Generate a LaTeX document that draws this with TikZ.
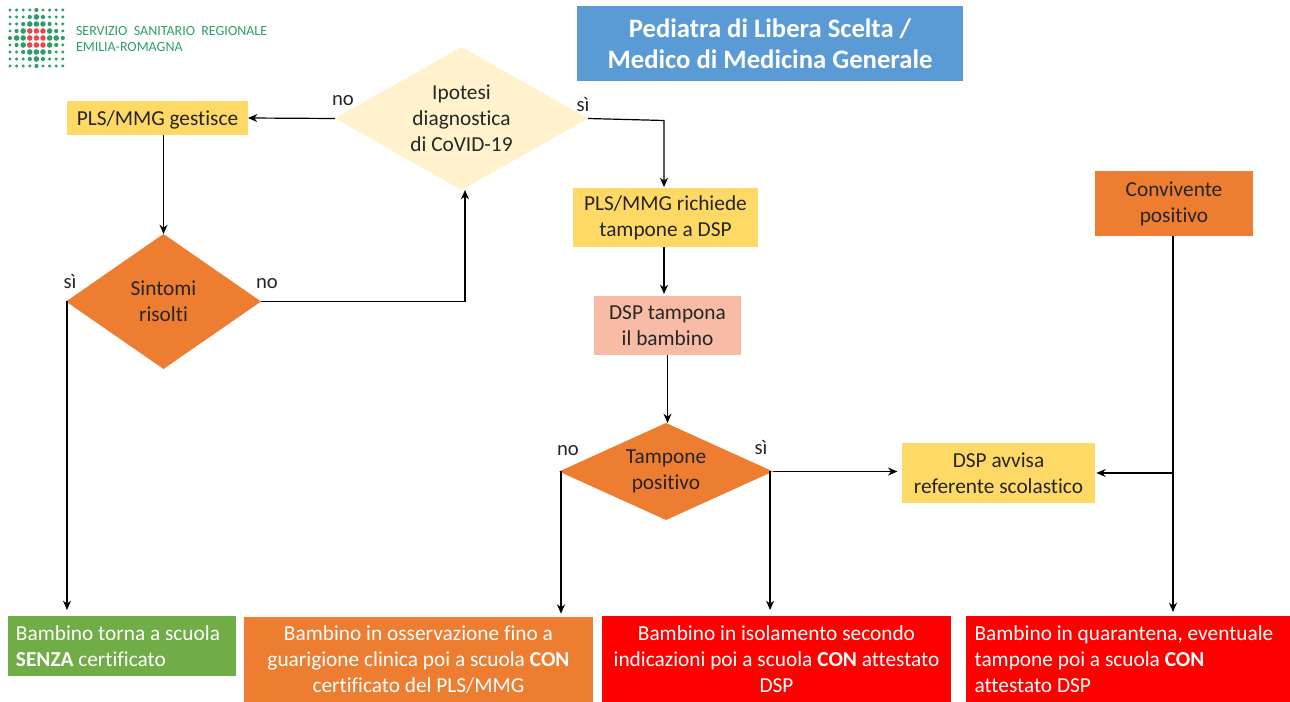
\documentclass[tikz,border=0pt]{standalone}
\usepackage{fontspec}
\setmainfont[Ligatures=NoCommon]{Carlito}
\usetikzlibrary{shapes.geometric,arrows.meta,calc}
\definecolor{ctitle}{HTML}{5B9BD5}
\definecolor{cyel}{HTML}{FFD966}
\definecolor{cor}{HTML}{ED7D31}
\definecolor{cpale}{HTML}{FFF2CC}
\definecolor{csalm}{HTML}{F8BBA6}
\definecolor{cgreen}{HTML}{70AD47}
\definecolor{cred}{HTML}{FF0000}
\definecolor{clogo}{HTML}{2E9E68}
\definecolor{cdot}{HTML}{E8474C}
\definecolor{ctxt}{HTML}{262626}
\tikzset{
  x=0.75pt,y=-0.75pt,
  every node/.style={inner sep=0pt,outer sep=0pt,font=\fontsize{16pt}{19.6pt}\selectfont,text=ctxt,align=center},
  lower/.style={execute at begin node={\rule{0pt}{16.5pt}}},
  boxnode/.style={rectangle,anchor=center,lower},
  dec/.style={diamond,anchor=center,draw=none,lower},
  sz/.style 2 args={minimum width=#1*0.75pt,minimum height=#2*0.75pt},
  lab/.style={anchor=center,font=\fontsize{15.5pt}{18pt}\selectfont},
  whitetxt/.style={text=white,font=\fontsize{16pt}{19.6pt}\selectfont},
  link/.style={draw=black,line width=0.9pt,-{Stealth[length=7pt,width=6pt]}},
}
\begin{document}
\begin{tikzpicture}
\useasboundingbox (0,0) rectangle (1290,702);
% logo
\foreach \c in {0,...,8}{\foreach \r in {0,...,8}{
  \pgfmathsetmacro{\dd}{max(abs(\c-4),abs(\r-4))}
  \pgfmathsetmacro{\dm}{abs(\c-4)+abs(\r-4)}
  \pgfmathsetmacro{\rad}{\dd<=1?2.8:(\dm<=3?2.8:(\dm<=4?2.1:1.7))}
  \pgfmathtruncatemacro{\isred}{\dd<=1?1:0}
  \ifnum\isred=1 \fill[cdot] ({10+6.6*\c},{10+7*\r}) circle ({\rad});
  \else \fill[clogo] ({10+6.6*\c},{10+7*\r}) circle ({\rad}); \fi
}}
\node[anchor=west,text=clogo,font=\fontsize{10.5pt}{11.5pt}\selectfont,align=left] (logotxt) at (76,39) {SERVIZIO\ \ SANITARIO\ \ REGIONALE\\EMILIA-ROMAGNA};
% boxes
\node[rectangle,anchor=center,fill=ctitle,sz={386}{75},text=white,font=\fontsize{20pt}{23.2pt}\selectfont\bfseries] (title) at (770,43.5) {Pediatra di Libera Scelta /\\Medico di Medicina Generale};
\node[rectangle,anchor=center,fill=cyel,sz={181}{34},execute at begin node={\rule{0pt}{14pt}}] (gest) at (157.5,118) {PLS/MMG gestisce};
\node[boxnode,fill=cyel,sz={185}{59}] (rich) at (665.5,217.5) {PLS/MMG richiede\\tampone a DSP};
\node[boxnode,fill=csalm,sz={147}{59}] (tamp) at (667.5,325.5) {DSP tampona\\il bambino};
\node[boxnode,fill=cyel,sz={193}{60}] (avv) at (998.5,473) {DSP avvisa\\referente scolastico};
\node[boxnode,fill=cor,sz={158}{65}] (conv) at (1174,203.5) {Convivente\\positivo};
% diamonds
\node[dec,fill=cpale,sz={253}{143},aspect=1.77] (ipo) at (461.5,118.5) {Ipotesi\\diagnostica\\di CoVID-19};
\node[dec,fill=cor,sz={195}{135},aspect=1.44] (sint) at (163.5,301.5) {Sintomi\\risolti};
\node[dec,fill=cor,sz={214}{97},aspect=2.2] (tpos) at (666,471.5) {Tampone\\positivo};
% outcome boxes
\node[boxnode,fill=cgreen,whitetxt,sz={228}{60},align=left] (esit1) at (122,646) {Bambino torna a scuola\hspace*{6pt}\\\textbf{SENZA} certificato};
\node[boxnode,fill=cor,whitetxt,sz={349}{85}] (esit2) at (418.5,659.5) {Bambino in osservazione fino a\\guarigione clinica poi a scuola \textbf{CON}\\certificato del PLS/MMG};
\node[boxnode,fill=cred,whitetxt,sz={349}{86}] (esit3) at (776.5,659) {Bambino in isolamento secondo\\indicazioni poi a scuola \textbf{CON} attestato\\DSP};
\node[boxnode,fill=cred,whitetxt,sz={324}{86},align=left] (esit4) at (1128,659) {Bambino in quarantena, eventuale\hspace*{6pt}\\tampone poi a scuola \textbf{CON}\\attestato DSP};
% labels
\node[lab] (l1) at (343,100.5) {no};
\node[lab] (l2) at (583,105) {sì};
\node[lab] (l3) at (70,282) {sì};
\node[lab] (l4) at (267,283.5) {no};
\node[lab] (l5) at (568,450.5) {no};
\node[lab] (l6) at (761,448) {sì};
% connectors
\draw[link] (ipo.west) -- (gest.east);
\draw[link] (ipo.east) -- ++(76,2) coordinate (k1) -- ([yshift=0.75pt]k1 |- rich.north);
\draw[link] (gest.south -| sint.north) -- (sint.north);
\draw[link] (sint.east) -- ++(204,0) coordinate (k2) -- (k2 |- ipo.south);
\draw[link,shorten >=1.5pt] ([xshift=-1.1pt]rich.south) -- ([xshift=-1.1pt]rich.south |- tamp.north);
\draw[link] (tamp.south) -- (tpos.north -| tamp.south);
\draw[link,shorten >=3.5pt] (tpos.east) -- (tpos.east -| avv.west);
\draw[link,shorten >=2.5pt] ([xshift=1.5pt]tpos.west) -- ([xshift=1.5pt]tpos.west |- esit2.north);
\draw[link,shorten >=4.5pt] ([xshift=-2.2pt]tpos.east) -- ([xshift=-2.2pt]tpos.east |- esit3.north);
\draw[link,shorten >=3pt] ([xshift=-0.75pt]conv.south) -- ([xshift=-0.75pt]conv.south |- esit4.north);
\draw[link,shorten >=1pt] ([xshift=-0.75pt]conv.south |- avv.east) -- (avv.east);
\draw[link,shorten >=4.5pt] ([xshift=0.75pt]sint.west) -- ([xshift=0.75pt]sint.west |- esit1.north);
\end{tikzpicture}
\end{document}
